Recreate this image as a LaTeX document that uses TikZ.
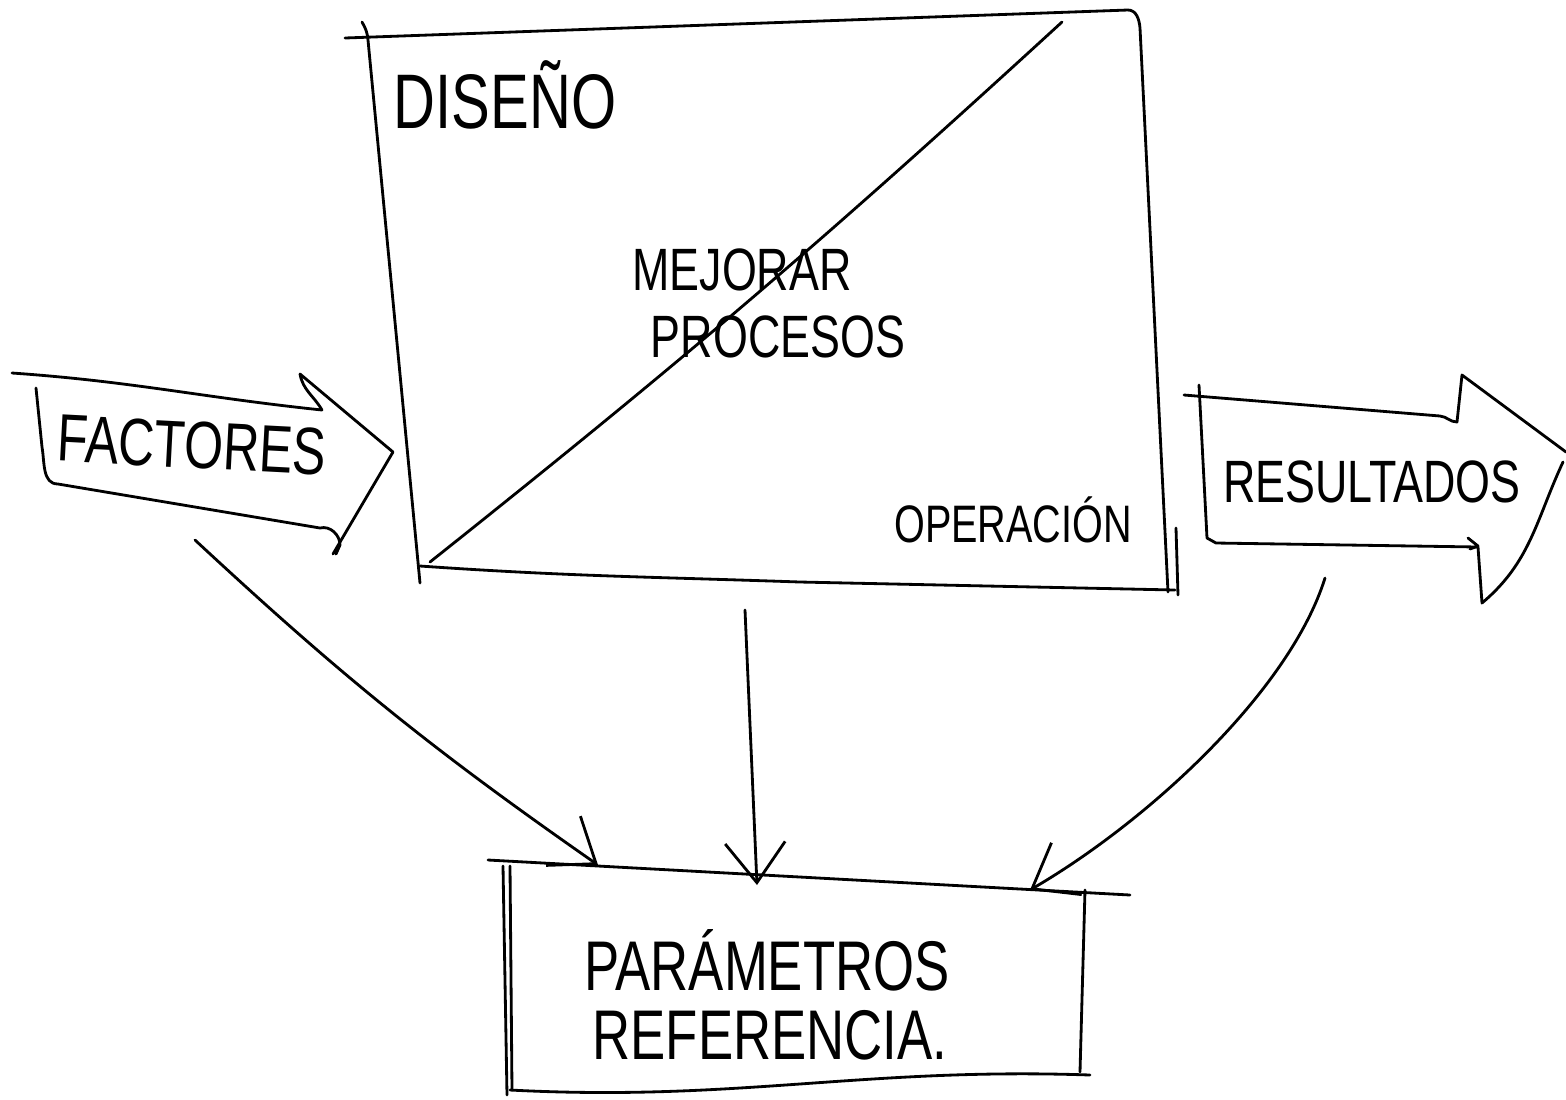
\documentclass[tikz,border=0pt]{standalone}
\usepackage{fontspec}
\setmainfont{Liberation Sans}
\usepackage{graphicx}
\usetikzlibrary{arrows.meta, calc}

\newcommand{\hand}[1]{\scalebox{0.75}[1]{#1}}

\begin{document}
\begin{tikzpicture}[x=0.01cm, y=-0.01cm, line cap=round, line join=round,
	sketch/.style={black, line width=0.8pt},
	link/.style={sketch, -{Straight Barb[length=4mm, width=6mm, line width=0.8pt]}},
	word/.style={inner sep=0pt, font=\fontsize{#1}{#1}\selectfont}]

		\useasboundingbox (0,0) rectangle (1566,1099);

		% main box
		\draw [sketch] (345,38)--(1128,10) to[out=0,in=95] (1140,28)--(1168,592);
		\draw [sketch] (362,22) to[out=-60,in=95] (368,40)--(420,583);
		\draw [sketch] (420,566) to[out=-4,in=178] (800,582)--(1175,590);
		\draw [sketch] (1176,528)--(1178,595); % extra stroke
		\draw [sketch] (430,562) to[bend right=2] (1062,22); % diagonal

		\node [word=22] (diseno) at (505,95) {\hand{DISEÑO}};
		\node [word=17] (mejorar) at (742,270) {\hand{MEJORAR}};
		\node [word=17] (procesos) at (778,337) {\hand{PROCESOS}};
		\node [word=15] (operacion) at (1013,520) {\hand{OPERACIÓN}};

		% input arrow
		\draw [sketch] (12,373) to[out=-4,in=174] (322,410) to[out=120,in=-80] (300,374)--(393,452)--(333,554);
		\draw [sketch] (36,388)--(42,447) to[out=-80,in=180] (58,484)--(320,528) to[out=15,in=90] (340,545)--(336,554);
		\node [word=19, rotate=-3] (factores) at (192,445) {\hand{FACTORES}};

		% output arrow
		\draw [sketch] (1184,395)--(1440,416) to[out=-5,in=180] (1457,422)--(1462,375)--(1566,452);
		\draw [sketch] (1563,462) to[out=-115,in=40] (1482,603)--(1478,547);
		\draw [sketch] (1199,385)--(1207,538)--(1216,543)--(1478,547);
		\draw [sketch] (1468,538)--(1478,546)--(1470,549);
		\node [word=17] (resultados) at (1372,482) {\hand{RESULTADOS}};

		% bottom box
		\draw [sketch] (488,860)--(1130,895);
		\draw [sketch] (503,866)--(507,1095);
		\draw [sketch] (510,866)--(512,1090);
		\draw [sketch] (1085,890)--(1080,1072);
		\draw [sketch] (510,1090) to[out=-3,in=178] (1090,1075);
		\node [word=20] (parametros) at (767,960) {\hand{PARÁMETROS}};
		\node [word=20] (referencia) at (770,1035) {\hand{REFERENCIA.}};

		% links
		\coordinate (f-out) at (195,540);
		\coordinate (m-out) at (745,610);
		\coordinate (r-out) at (1325,578);
		\coordinate (p-in1) at (598,865);
		\coordinate (p-in2) at (757,885);
		\coordinate (p-in3) at (1030,890);
		\draw [link] (f-out) to[bend right=4] (p-in1);
		\draw [link] (m-out)--(p-in2);
		\draw [link] (r-out) .. controls (1290,690) and (1150,820) .. (p-in3);
\end{tikzpicture}
\end{document}
